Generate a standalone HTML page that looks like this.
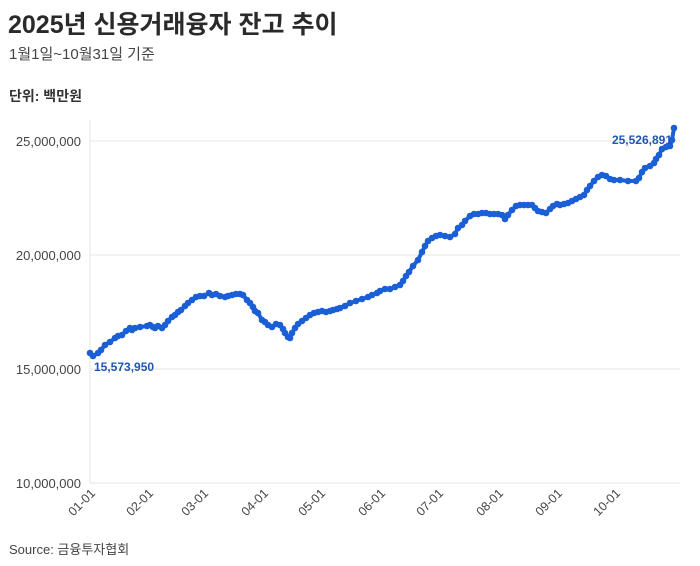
<!DOCTYPE html>
<html><head><meta charset="utf-8"><style>
body{margin:0;background:#fff;width:700px;height:566px;overflow:hidden;font-family:"Liberation Sans","Noto Sans CJK KR",sans-serif;}
</style></head><body>
<svg width="700" height="566" xmlns="http://www.w3.org/2000/svg" style="position:absolute;left:0;top:0">
<defs><marker id="m" markerUnits="userSpaceOnUse" markerWidth="8" markerHeight="8" refX="4" refY="4"><circle cx="4" cy="4" r="3.3" fill="#1a5fd6"/></marker></defs>
<text x="8" y="33" font-size="25" font-weight="bold" fill="#2a2a2a" font-family="Liberation Sans,Noto Sans CJK KR,sans-serif">2025년 신용거래융자 잔고 추이</text>
<text x="9" y="59" font-size="15" fill="#444" font-family="Liberation Sans,Noto Sans CJK KR,sans-serif">1월1일~10월31일 기준</text>
<text x="9" y="101" font-size="14" font-weight="bold" fill="#333" font-family="Liberation Sans,Noto Sans CJK KR,sans-serif">단위: 백만원</text>
<g stroke="#e6e6e6" stroke-width="1">
<line x1="90" y1="141" x2="680" y2="141"/><line x1="90" y1="255" x2="680" y2="255"/>
<line x1="90" y1="369" x2="680" y2="369"/><line x1="90" y1="483" x2="680" y2="483"/>
<line x1="90" y1="120" x2="90" y2="483"/>
</g>
<g font-size="13" fill="#444" text-anchor="end" font-family="Liberation Sans,sans-serif">
<text x="81" y="146">25,000,000</text><text x="81" y="260">20,000,000</text>
<text x="81" y="374">15,000,000</text><text x="81" y="488">10,000,000</text>
</g>
<g font-size="12.5" fill="#444" text-anchor="end" font-family="Liberation Sans,sans-serif">
<text transform="translate(96,494) rotate(-45)">01-01</text>
<text transform="translate(154,494) rotate(-45)">02-01</text>
<text transform="translate(209,494) rotate(-45)">03-01</text>
<text transform="translate(269,494) rotate(-45)">04-01</text>
<text transform="translate(326,494) rotate(-45)">05-01</text>
<text transform="translate(386,494) rotate(-45)">06-01</text>
<text transform="translate(444,494) rotate(-45)">07-01</text>
<text transform="translate(504,494) rotate(-45)">08-01</text>
<text transform="translate(563,494) rotate(-45)">09-01</text>
<text transform="translate(621,494) rotate(-45)">10-01</text>
</g>
<polyline fill="none" stroke="#1a5fd6" stroke-width="4" stroke-linejoin="round" marker-start="url(#m)" marker-mid="url(#m)" marker-end="url(#m)" points="90,353 93,356 98,353 101,350 105,345 110,342 115,338 118,336 122,335 126,331 130,328 132,330 135,328 140,327 147,326 150,325 153,327 155,328 158,326 162,328 165,325 168,321 172,317 175,315 178,312 181,310 185,306 188,303 192,300 196,297 200,296 204,296 209,293 212,295 216,294 220,296 225,297 228,296 232,295 236,294 240,294 243,295 247,300 250,303 253,307 255,311 258,313 262,320 265,322 268,325 272,327 276,324 280,325 283,329 285,333 288,337 290,338 292,333 295,328 298,324 302,321 306,318 310,315 314,313 318,312 322,311 326,312 330,311 333,310 337,309 340,308 345,306 350,303 356,301 362,299 368,297 372,295 377,293 380,291 385,289 390,289 395,287 400,285 403,281 406,276 409,272 413,266 418,260 422,252 425,246 428,241 432,238 436,236 440,235 445,236 450,237 455,234 458,228 462,225 465,221 470,216 474,214 478,214 482,213 486,213 490,214 494,214 498,214 502,215 505,219 508,215 512,210 516,206 520,205 524,205 528,205 532,205 535,208 538,211 542,212 546,213 550,209 553,206 557,204 560,205 564,204 568,203 572,201 576,199 580,197 584,195 587,190 590,186 594,181 598,177 602,175 606,176 610,179 614,180 620,180 628,181 636,181 639,178 642,172 645,168 650,166 654,163 656,159 659,155 662,149 666,147 670,146 672,140 674,128"/>
<text x="94" y="371" font-size="12" font-weight="bold" fill="#1f55b0" font-family="Liberation Sans,sans-serif">15,573,950</text>
<text x="672" y="144" font-size="12" font-weight="bold" fill="#1f55b0" text-anchor="end" font-family="Liberation Sans,sans-serif">25,526,891</text>
<text x="9" y="554" font-size="13" fill="#444" font-family="Liberation Sans,Noto Sans CJK KR,sans-serif">Source: 금융투자협회</text>
</svg>
</body></html>
